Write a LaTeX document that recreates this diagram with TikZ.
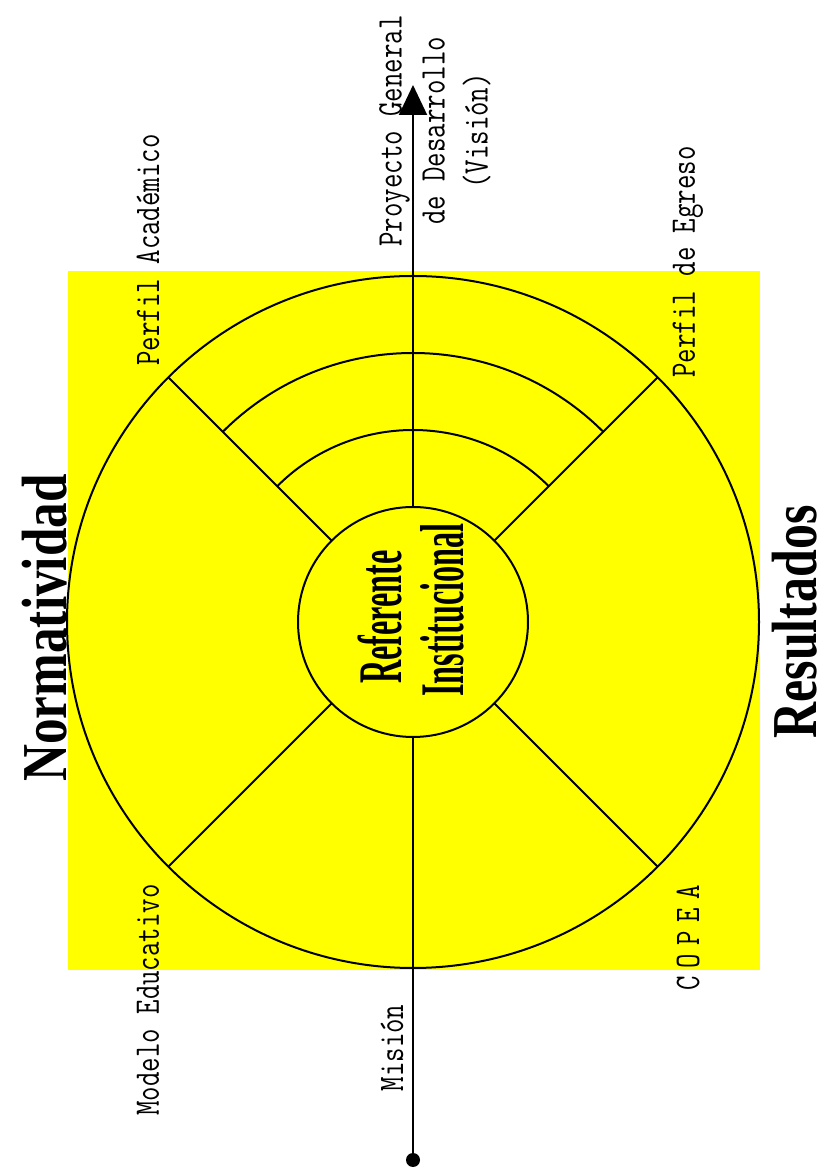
\documentclass[tikz,border=0pt]{standalone}
\usepackage{fontspec}
\usetikzlibrary{arrows.meta,calc}
\newfontfamily\monof{Latin Modern Mono}
\newfontfamily\monosp{Latin Modern Mono}[LetterSpace=30]
\newfontfamily\serifbf{Liberation Serif}[BoldFont={Liberation Serif Bold}]
\definecolor{bgyellow}{RGB}{255,255,0}
\tikzset{
  ln/.style={line width=2pt, black},
  lbl/.style={rotate=90, xscale=0.78, font=\monof\fontsize{36}{43}\selectfont, inner sep=0pt, align=center},
  big/.style={rotate=90, font=\serifbf\bfseries\fontsize{64}{64}\selectfont, inner sep=0pt},
  ref/.style={rotate=90, xscale=0.52, font=\serifbf\bfseries\fontsize{62}{62}\selectfont, inner sep=0pt}
}
\begin{document}
\begin{tikzpicture}[x=1pt,y=1pt]
\useasboundingbox (0,0) rectangle (833,1173);
\fill[bgyellow] (68,203) rectangle (760,902);
\coordinate (c) at (413,551);
\draw[ln] (c) circle[radius=346];
% vertical axis
\coordinate (top) at (413,1088);
\coordinate (bot) at (413,13);
\coordinate (itop) at (413,666);
\coordinate (ibot) at (413,436);
\draw[ln, -{Triangle[length=30pt,width=28pt]}] (itop) -- (top);
\draw[ln] (ibot) -- (bot);
\fill (bot) circle[radius=7];
% radial lines
\foreach \a in {45,135,225,315}{
  \draw[ln] ($(c)+(\a:115)$) -- ($(c)+(\a:346)$);
}
% arcs
\draw[ln] ($(c)+(45:269)$) arc[start angle=45, end angle=135, radius=269];
\draw[ln] ($(c)+(45:192)$) arc[start angle=45, end angle=135, radius=192];
% inner circle
\node[draw, circle, line width=2pt, minimum size=230pt, inner sep=0pt] (inner) at (c) {};
% labels
\node[lbl] (pgd) at (435,1042) {Proyecto General\\de Desarrollo\\(Visión)};
\node[lbl] (pa) at (148,923) {Perfil Académico};
\node[lbl] (pe) at (688,911) {Perfil de Egreso};
\node[lbl] (me) at (148,173) {Modelo Educativo};
\node[lbl] (mi) at (392,125) {Misión};
\node[lbl, font=\monosp\fontsize{36}{43}\selectfont] (co) at (688,235) {COPEA};
\node[big, xscale=0.80] (norm) at (45,545) {Normatividad};
\node[big, xscale=0.78] (res) at (795,551) {Resultados};
\node[ref] (ref1) at (380,556) {Referente};
\node[ref] (ref2) at (442,563) {Institucional};
\end{tikzpicture}
\end{document}
